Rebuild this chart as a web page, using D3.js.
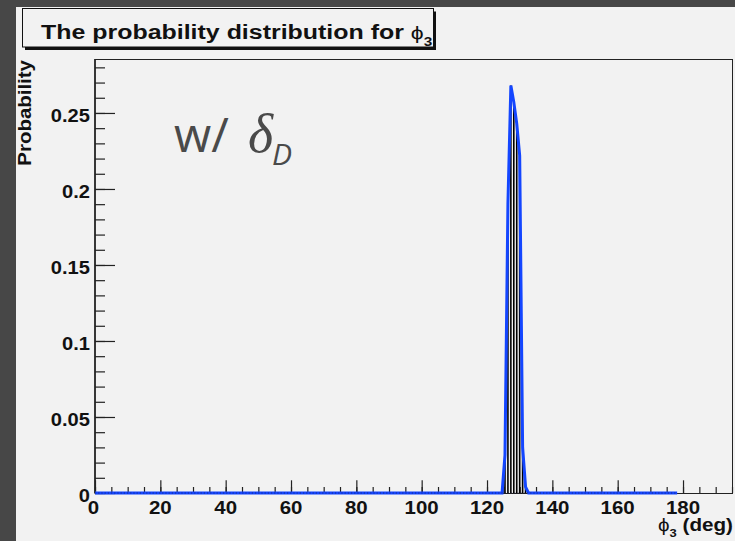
<!DOCTYPE html>
<html>
<head>
<meta charset="utf-8">
<script src="https://cdn.jsdelivr.net/npm/d3@7"></script>
<style>
  html, body { margin: 0; padding: 0; background: #474747; }
  svg { display: block; }
</style>
</head>
<body>
<svg id="chart" width="735" height="541"></svg>
<script>
// Probability of phi3 (deg), sampled every 0.9 deg; zero outside the peak
const phi3 = [0, 124.6, 125.5, 126.4, 127.3, 128.2, 129.1, 130.0, 130.9, 131.8, 132.7, 178.2];
const prob = [0, 0, 0.025, 0.19, 0.268, 0.257, 0.243, 0.222, 0.03, 0.004, 0, 0];

const xMajorTicks = [0, 20, 40, 60, 80, 100, 120, 140, 160, 180];
const xTickLabels = ["0", "20", "40", "60", "80", "100", "120", "140", "160", "180"];
const yMajorTicks = [0, 0.05, 0.1, 0.15, 0.2, 0.25];
const yTickLabels = ["0", "0.05", "0.1", "0.15", "0.2", "0.25"];

const titleText = "The probability distribution for ";
const xTitleText = " (deg)";
const yTitleText = "Probability";

const svg = d3.select("#chart");
const frame = { l: 95, r: 733, t: 59, b: 493 };
const x = d3.scaleLinear().domain([0, 195.3]).range([frame.l, frame.r]);
const y = d3.scaleLinear().domain([0, 0.2855]).range([frame.b, frame.t]);

const BOLD = "'Liberation Sans', Arial, Helvetica, sans-serif";
const INK = "#111";

// canvas pad
svg.append("rect").attr("x", 16).attr("y", 7).attr("width", 735 - 16).attr("height", 541 - 7)
  .attr("fill", "#f2f2f2");

// title pave with shadow
svg.append("rect").attr("x", 25).attr("y", 11.5).attr("width", 411).attr("height", 38.5).attr("fill", "#111");
svg.append("rect").attr("x", 22.5).attr("y", 8.5).attr("width", 411).attr("height", 38.5)
  .attr("fill", "#f2f2f2").attr("stroke", "#111").attr("stroke-width", 1);
const title = svg.append("text")
  .attr("transform", "translate(41,39.3) scale(1.28,1)")
  .attr("font-family", BOLD).attr("font-weight", "bold").attr("font-size", 19.5).attr("fill", INK);
title.append("tspan").text(titleText);
title.append("tspan").attr("font-weight", "normal").attr("font-size", 18).text("ϕ");
title.append("tspan").attr("font-size", 12).attr("dy", 7).text("3");

// frame
svg.append("rect").attr("x", frame.l).attr("y", frame.t + 0.5)
  .attr("width", frame.r - frame.l - 0.5).attr("height", frame.b - frame.t)
  .attr("fill", "none").attr("stroke", "#222").attr("stroke-width", 1);
svg.append("line").attr("x1", frame.l).attr("x2", frame.l).attr("y1", frame.t).attr("y2", frame.b)
  .attr("stroke", "#222").attr("stroke-width", 1.6);

// x axis ticks (inward)
const xMinor = d3.range(0, 196, 5);
const gxMinor = svg.append("g").attr("transform", `translate(0,${frame.b})`)
  .call(d3.axisBottom(x).tickValues(xMinor).tickSize(-6).tickFormat(""));
const gxMajor = svg.append("g").attr("transform", `translate(0,${frame.b})`)
  .call(d3.axisBottom(x).tickValues(xMajorTicks).tickSize(-12.7).tickFormat(""));
[gxMinor, gxMajor].forEach(g => {
  g.select(".domain").remove();
  g.selectAll(".tick line").attr("stroke", "#222").attr("stroke-width", 1.2);
});

// y axis ticks (inward)
const yMinor = d3.range(0, 0.2801, 0.01);
const gyMinor = svg.append("g").attr("transform", `translate(${frame.l},0)`)
  .call(d3.axisLeft(y).tickValues(yMinor).tickSize(-10).tickFormat(""));
const gyMajor = svg.append("g").attr("transform", `translate(${frame.l},0)`)
  .call(d3.axisLeft(y).tickValues(yMajorTicks).tickSize(-20).tickFormat(""));
[gyMinor, gyMajor].forEach(g => {
  g.select(".domain").remove();
  g.selectAll(".tick line").attr("stroke", "#222").attr("stroke-width", 1.2);
});

// tick labels
svg.append("g").selectAll("text").data(xMajorTicks).join("text")
  .attr("transform", d => `translate(${d === 0 ? x(d) - 1.5 : x(d)},514) scale(1.17,1)`)
  .attr("text-anchor", "middle")
  .attr("font-family", BOLD).attr("font-weight", "bold").attr("font-size", 17.5).attr("fill", INK)
  .text((d, i) => xTickLabels[i]);
svg.append("g").selectAll("text").data(yMajorTicks).join("text")
  .attr("transform", d => `translate(90,${y(d) + 9}) scale(1.15,1)`)
  .attr("text-anchor", "end")
  .attr("font-family", BOLD).attr("font-weight", "bold").attr("font-size", 17.5).attr("fill", INK)
  .text((d, i) => yTickLabels[i]);

// axis titles
const xt = svg.append("text")
  .attr("transform", "translate(733,531) scale(1.18,1)")
  .attr("text-anchor", "end")
  .attr("font-family", BOLD).attr("font-weight", "bold").attr("font-size", 17.5).attr("fill", INK);
xt.append("tspan").attr("font-weight", "normal").text("ϕ");
xt.append("tspan").attr("font-size", 11).attr("dy", 6).text("3");
xt.append("tspan").attr("dy", -6).text(xTitleText);

svg.append("text")
  .attr("transform", "translate(31,60) rotate(-90) scale(1.17,1)")
  .attr("text-anchor", "end")
  .attr("font-family", BOLD).attr("font-weight", "bold").attr("font-size", 17.5).attr("fill", INK)
  .text(yTitleText);

// graph: black bars at each sample, blue line through samples
const pts = phi3.map((p, i) => [p, prob[i]]);
svg.append("g").selectAll("line").data(pts.filter(d => d[1] > 0)).join("line")
  .attr("x1", d => x(d[0])).attr("x2", d => x(d[0]))
  .attr("y1", y(0)).attr("y2", d => y(d[1]))
  .attr("stroke", "#000").attr("stroke-width", 1.6);

svg.append("path").datum(pts)
  .attr("d", d3.line().x(d => x(d[0])).y(d => y(d[1])))
  .attr("fill", "none").attr("stroke", "#1446ff").attr("stroke-width", 3);

// sample markers along the zero baseline
svg.append("line")
  .attr("x1", x(phi3[0])).attr("x2", x(phi3[phi3.length - 1]))
  .attr("y1", y(0)).attr("y2", y(0))
  .attr("stroke", "#1a1a40").attr("stroke-width", 1).attr("stroke-dasharray", "1.2 2")
  .attr("opacity", 0.6);

// annotation
svg.append("text").attr("x", 174).attr("y", 152).attr("fill", "#4a4a4a")
  .attr("font-family", "'Open Sans', sans-serif").attr("font-size", 48).text("w/");
svg.append("text").attr("x", 248).attr("y", 152).attr("fill", "#4a4a4a")
  .attr("font-family", "'Liberation Serif', serif").attr("font-style", "italic")
  .attr("font-size", 54).text("δ");
svg.append("text").attr("x", 272).attr("y", 165).attr("fill", "#4a4a4a")
  .attr("font-family", "'Open Sans', sans-serif").attr("font-style", "italic")
  .attr("font-size", 30).text("D");
</script>
</body>
</html>
